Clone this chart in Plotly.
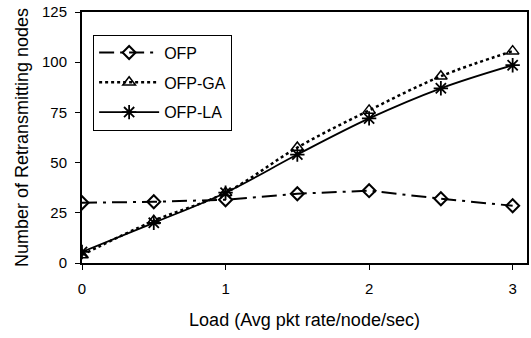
import plotly.graph_objects as go

load = [0, 0.5, 1, 1.5, 2, 2.5, 3]
ofp = [30, 30.5, 31.5, 34.5, 36, 32, 28.5]
ofp_ga = [4, 21, 35, 57.5, 76, 93, 105.5]
ofp_la = [5.5, 20, 35, 54, 72, 87, 98.5]

fig = go.Figure()
fig.add_trace(go.Scatter(x=load, y=ofp, name="OFP", mode="lines+markers", legendgroup="a",
                         line=dict(color="black", width=2, dash="longdashdot"),
                         marker=dict(symbol="diamond-open", size=10, color="black", line=dict(width=2))))
fig.add_trace(go.Scatter(x=load, y=ofp_ga, name="OFP-GA", mode="lines+markers", legendgroup="b",
                         line=dict(color="black", width=2.5, dash="dot", shape="spline"),
                         marker=dict(symbol="triangle-up-open", size=11, color="black", line=dict(width=1.5))))
fig.add_trace(go.Scatter(x=load, y=ofp_la, name="OFP-LA", mode="lines+markers", legendgroup="c",
                         line=dict(color="black", width=1.8, shape="spline"),
                         marker=dict(symbol="asterisk-open", size=12, color="black", line=dict(width=1.8))))

font = dict(family="Liberation Sans, Arial, sans-serif", size=15, color="black")
fig.update_layout(
    width=531, height=338,
    margin=dict(l=82, r=2, t=12, b=75),
    paper_bgcolor="white", plot_bgcolor="white",
    font=font,
    showlegend=True,
    legend=dict(x=0.025, y=0.91, xanchor="left", yanchor="top",
                bordercolor="black", borderwidth=1, bgcolor="white",
                font=dict(family="Liberation Sans, Arial, sans-serif", size=16),
                itemwidth=60, tracegroupgap=6, entrywidth=105),
)
fig.update_xaxes(range=[0, 3.1], tickvals=[0, 1, 2, 3], showgrid=False, zeroline=False,
                 showline=True, linecolor="black", linewidth=2, mirror=True,
                 ticks="outside", ticklen=5, tickcolor="black", ticklabelstandoff=6,
                 title=dict(text="Load (Avg pkt rate/node/sec)", standoff=17))
fig.update_yaxes(range=[0, 125], tickvals=[0, 25, 50, 75, 100, 125], showgrid=False, zeroline=False,
                 showline=True, linecolor="black", linewidth=2, mirror=True,
                 ticks="outside", ticklen=5, tickcolor="black", ticklabelstandoff=5,
                 title=dict(text="Number of Retransmitting nodes", standoff=9))

fig.write_html("out.html")
